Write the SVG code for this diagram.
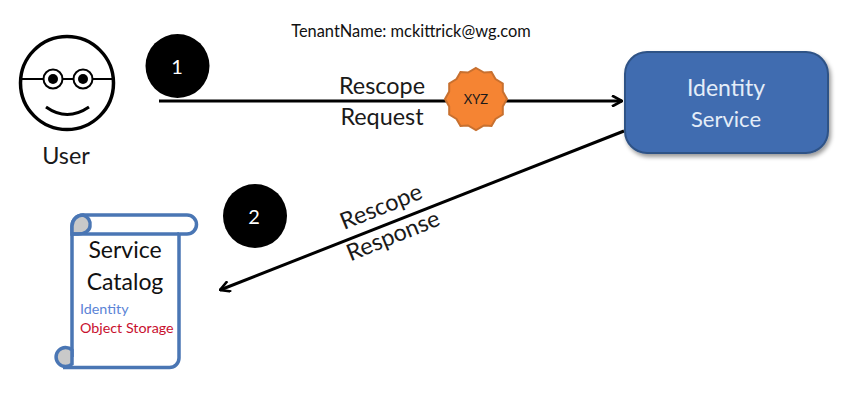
<svg xmlns="http://www.w3.org/2000/svg" width="854" height="404" viewBox="0 0 854 404">
<defs>
<style>
text{font-family:"Lato","Open Sans","Liberation Sans",sans-serif;text-anchor:middle}
.lbl{font-size:23.400px;fill:#1a1a1a}
.ink{fill:none;stroke:#000}
.scroll{fill:#fff;stroke:#4a76b4;stroke-width:3.5}
.curl{fill:#c9c9c9;stroke:#4a76b4;stroke-width:3.5}
</style>
<marker id="arr" viewBox="0 0 12 12" refX="11" refY="6" markerWidth="12" markerHeight="12" markerUnits="userSpaceOnUse" orient="auto"><path d="M1 0.5L11 6L1 11.5" fill="none" stroke="#000" stroke-width="2.6"/></marker>
<filter id="sh" x="-10%" y="-10%" width="125%" height="130%"><feDropShadow dx="2" dy="3" stdDeviation="2" flood-color="#000" flood-opacity=".4"/></filter>
</defs>
<rect width="854" height="404" fill="#fff"/>
<text x="411" y="37" style="font-size:16.400px" fill="#111">TenantName: mckittrick@wg.com</text>
<g id="connectors">
<path class="ink" stroke-width="3" d="M159 101H622" marker-end="url(#arr)"/>
<path class="ink" stroke-width="3" d="M624 131L220 290" marker-end="url(#arr)"/>
</g>
<g id="user">
<circle class="ink" cx="67" cy="83" r="46.500" stroke-width="3.5"/>
<path class="ink" stroke-width="2" d="M20 79H44M62 79H74M92 79H114"/>
<circle class="ink" cx="53" cy="79" r="9.500" stroke-width="2"/>
<circle class="ink" cx="83" cy="79" r="9.500" stroke-width="2"/>
<circle cx="53" cy="79" r="5"/><circle cx="83" cy="79" r="5"/>
<path class="ink" stroke-width="3" d="M46 107Q67 122 89 107"/>
<text x="66" y="164" class="lbl">User</text>
</g>
<g id="step1"><circle cx="177.500" cy="66" r="32"/><text x="177" y="74" style="font-size:20px" fill="#fff">1</text></g>
<g id="step2"><circle cx="255" cy="216" r="32"/><text x="254" y="224" style="font-size:20px" fill="#fff">2</text></g>
<g id="request-label">
<text x="382" y="94" class="lbl">Rescope</text>
<text x="382" y="125" class="lbl">Request</text>
</g>
<g id="response-label">
<text x="384" y="214" class="lbl" transform="rotate(-22 384 214)">Rescope</text>
<text x="396" y="243" class="lbl" transform="rotate(-22 396 243)">Response</text>
</g>
<g id="token">
<polygon fill="#f58433" stroke="#c8702f" stroke-width="2" points="476,68 484,72.500 491.500,72.100 495.500,79 502.800,83.500 502.800,91.500 507,99 502.800,106.500 502.800,114.500 495.500,119 491.500,125.900 484,125.500 476,130 468,125.500 460.500,125.900 456.500,119 449.200,114.500 449.200,106.500 445,99 449.200,91.500 449.200,83.500 456.500,79 460.500,72.100 468,72.500"/>
<text x="476" y="104" style="font-size:13px" fill="#1a1a1a">XYZ</text>
</g>
<g id="identity-service">
<rect x="625" y="52" width="203" height="101" rx="22" fill="#3f6cb0" stroke="#2f5286" stroke-width="2" filter="url(#sh)"/>
<text x="726" y="96" style="font-size:23px;fill:#e4edf8">Identity</text>
<text x="726" y="127" style="font-size:22px;fill:#e4edf8">Service</text>
</g>
<g id="service-catalog">
<path class="scroll" d="M72 357V226A11 11 0 0 1 83 215H187A9.500 9.500 0 0 1 187 234H179V358A9.500 9.500 0 0 1 169.500 367.500H63"/>
<path class="curl" d="M83 215A9.500 9.500 0 0 1 90 226C90 231 84 234 78 234H72V226A11 11 0 0 1 83 215Z"/>
<path class="curl" d="M72 350A9.500 9.500 0 1 0 72 364Z"/>
<path d="M72 234H179" fill="none" stroke="#4a76b4" stroke-width="3.5"/>
<text x="125" y="258" style="font-size:23px;fill:#111">Service</text>
<text x="125" y="290" style="font-size:23px;fill:#111">Catalog</text>
<text x="80" y="314" style="font-size:14.300px;text-anchor:start" fill="#5b84d6">Identity</text>
<text x="80" y="333" style="font-size:14.300px;text-anchor:start" fill="#c8102e">Object Storage</text>
</g>
</svg>
